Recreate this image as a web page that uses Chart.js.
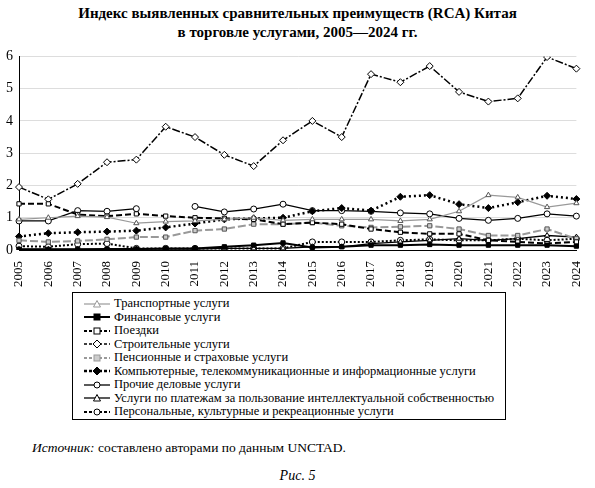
<!DOCTYPE html>
<html><head><meta charset="utf-8">
<script src="https://cdn.jsdelivr.net/npm/chart.js@4/dist/chart.umd.min.js"></script>
<style>
body{margin:0;width:595px;height:488px;background:#fff;font-family:"Liberation Serif","DejaVu Serif",serif;position:relative;overflow:hidden}
#t{position:absolute;top:4px;left:0;width:595px;text-align:center;font-weight:bold;font-size:15px;line-height:19px}
#c{position:absolute;top:42px;left:0;width:595px;height:248px}
#lg{position:absolute;left:72px;top:292px;width:434px;height:128px;border:1px solid #000;box-sizing:border-box;padding:4px 0 0 10px;font-size:12.5px;line-height:13.5px}
#lg div{display:flex;align-items:center;white-space:nowrap}
#lg svg{margin-right:3px}
#src{position:absolute;left:32px;top:440px;font-size:13.5px}
#fig{position:absolute;top:468px;width:595px;text-align:center;font-style:italic;font-size:14px}
</style></head><body>
<div id="t">Индекс выявленных сравнительных преимуществ (RCA) Китая<br>в торговле услугами, 2005—2024 гг.</div>
<div id="c"><canvas id="cv"></canvas></div>
<div id="lg"></div>
<div id="src"><i>Источник:</i> составлено авторами по данным UNCTAD.</div>
<div id="fig">Рис. 5</div>
<script>
const years=["2005","2006","2007","2008","2009","2010","2011","2012","2013","2014","2015","2016","2017","2018","2019","2020","2021","2022","2023","2024"];
const transport=[0.95,1.0,1.05,1.02,0.83,0.88,0.9,0.95,1.0,0.92,0.95,0.95,0.95,0.9,0.95,1.2,1.7,1.63,1.33,1.45];
const financial=[0.02,0.02,0.02,0.03,0.03,0.05,0.05,0.1,0.15,0.22,0.08,0.1,0.15,0.15,0.17,0.15,0.15,0.15,0.15,0.12];
const travel=[1.43,1.43,1.1,1.05,1.12,1.05,1.0,0.98,0.95,0.8,0.85,0.8,0.65,0.55,0.5,0.5,0.3,0.25,0.2,0.25];
const construction=[1.95,1.57,2.05,2.72,2.8,3.82,3.5,2.95,2.6,3.4,4.0,3.5,5.45,5.2,5.7,4.9,4.6,4.7,5.98,5.62];
const pension=[0.3,0.25,0.28,0.33,0.4,0.4,0.6,0.65,0.8,0.8,0.85,0.75,0.7,0.72,0.75,0.65,0.45,0.45,0.65,0.35];
const computer=[0.42,0.52,0.55,0.57,0.6,0.7,0.82,0.95,0.98,1.0,1.2,1.3,1.22,1.65,1.7,1.42,1.3,1.48,1.68,1.58];
const otherBiz=[0.9,0.9,1.22,1.2,1.28,null,1.35,1.18,1.27,1.42,1.22,1.22,1.2,1.15,1.12,0.98,0.92,0.98,1.12,1.05];
const ip=[0.02,0.02,0.02,0.02,0.03,0.03,0.03,0.05,0.05,0.05,0.1,0.1,0.2,0.25,0.3,0.35,0.3,0.35,0.45,0.4];
const personal=[0.12,0.1,0.18,0.2,0.05,0.05,0.05,0.05,0.05,0.05,0.25,0.25,0.25,0.3,0.33,0.3,0.3,0.35,0.3,0.35];
const yTicks=[0,1,2,3,4,5,6];
const G='#999';
const S=[
 {l:"Транспортные услуги",d:transport,c:G,p:'triangle',f:'#fff',dash:[],w:1.2},
 {l:"Финансовые услуги",d:financial,c:'#000',p:'rect',f:'#000',dash:[],w:2},
 {l:"Поездки",d:travel,c:'#000',p:'rect',f:'#fff',dash:[6,3],w:2},
 {l:"Строительные услуги",d:construction,c:'#000',p:'rectRot',f:'#fff',dash:[8,2,2,2],w:1.5},
 {l:"Пенсионные и страховые услуги",d:pension,c:G,p:'rect',f:'#ccc',dash:[8,3],w:2},
 {l:"Компьютерные, телекоммуникационные и информационные услуги",d:computer,c:'#000',p:'rectRot',f:'#000',dash:[2,3],w:2.5},
 {l:"Прочие деловые услуги",d:otherBiz,c:'#000',p:'circle',f:'#fff',dash:[],w:1.3},
 {l:"Услуги по платежам за пользование интеллектуальной собственностью",d:ip,c:'#000',p:'triangle',f:'#fff',dash:[],w:1.3},
 {l:"Персональные, культурные и рекреационные услуги",d:personal,c:'#000',p:'circle',f:'#fff',dash:[2,2],w:2}
];
new Chart(document.getElementById('cv'),{type:'line',
 data:{labels:years,datasets:S.map(s=>({label:s.l,data:s.d,borderColor:s.c,backgroundColor:s.f,pointBackgroundColor:s.f,pointBorderColor:s.c==G?'#555':s.c,pointStyle:s.p,pointRadius:s.p==='rectRot'?3.5:3,borderWidth:s.w,borderDash:s.dash,pointBorderWidth:1,tension:0,spanGaps:false}))},
 options:{responsive:true,maintainAspectRatio:false,animation:false,
  layout:{padding:{left:0,right:6,top:10}},
  plugins:{legend:{display:false},tooltip:{enabled:false}},
  scales:{x:{offset:false,grid:{display:false},border:{color:'#000'},ticks:{minRotation:90,maxRotation:90,color:'#000',font:{family:'Liberation Serif',size:13}}},
   y:{min:0,max:6,afterBuildTicks:a=>{a.ticks=yTicks.map(v=>({value:v}))},grid:{color:'#ddd',drawTicks:false},border:{color:'#000'},ticks:{color:'#000',padding:6,font:{family:'Liberation Serif',size:14}}}}}});
const lg=document.getElementById('lg');
S.forEach(s=>{const m=s.p==='rect'?`<rect x="11" y="3" width="6" height="6" fill="${s.f}" stroke="${s.c}"/>`:s.p==='circle'?`<circle cx="14" cy="6" r="3" fill="${s.f}" stroke="${s.c}"/>`:s.p==='triangle'?`<polygon points="14,2.5 17.5,9 10.5,9" fill="${s.f}" stroke="${s.c}"/>`:`<polygon points="14,2 18,6 14,10 10,6" fill="${s.f}" stroke="${s.c}"/>`;
 const e=document.createElement('div');e.innerHTML=`<svg width="28" height="12"><line x1="1" y1="6" x2="27" y2="6" stroke="${s.c}" stroke-width="${s.w}" stroke-dasharray="${s.dash.length?'3,2':''}"/>${m}</svg>${s.l}`;lg.appendChild(e);});
</script></body></html>
